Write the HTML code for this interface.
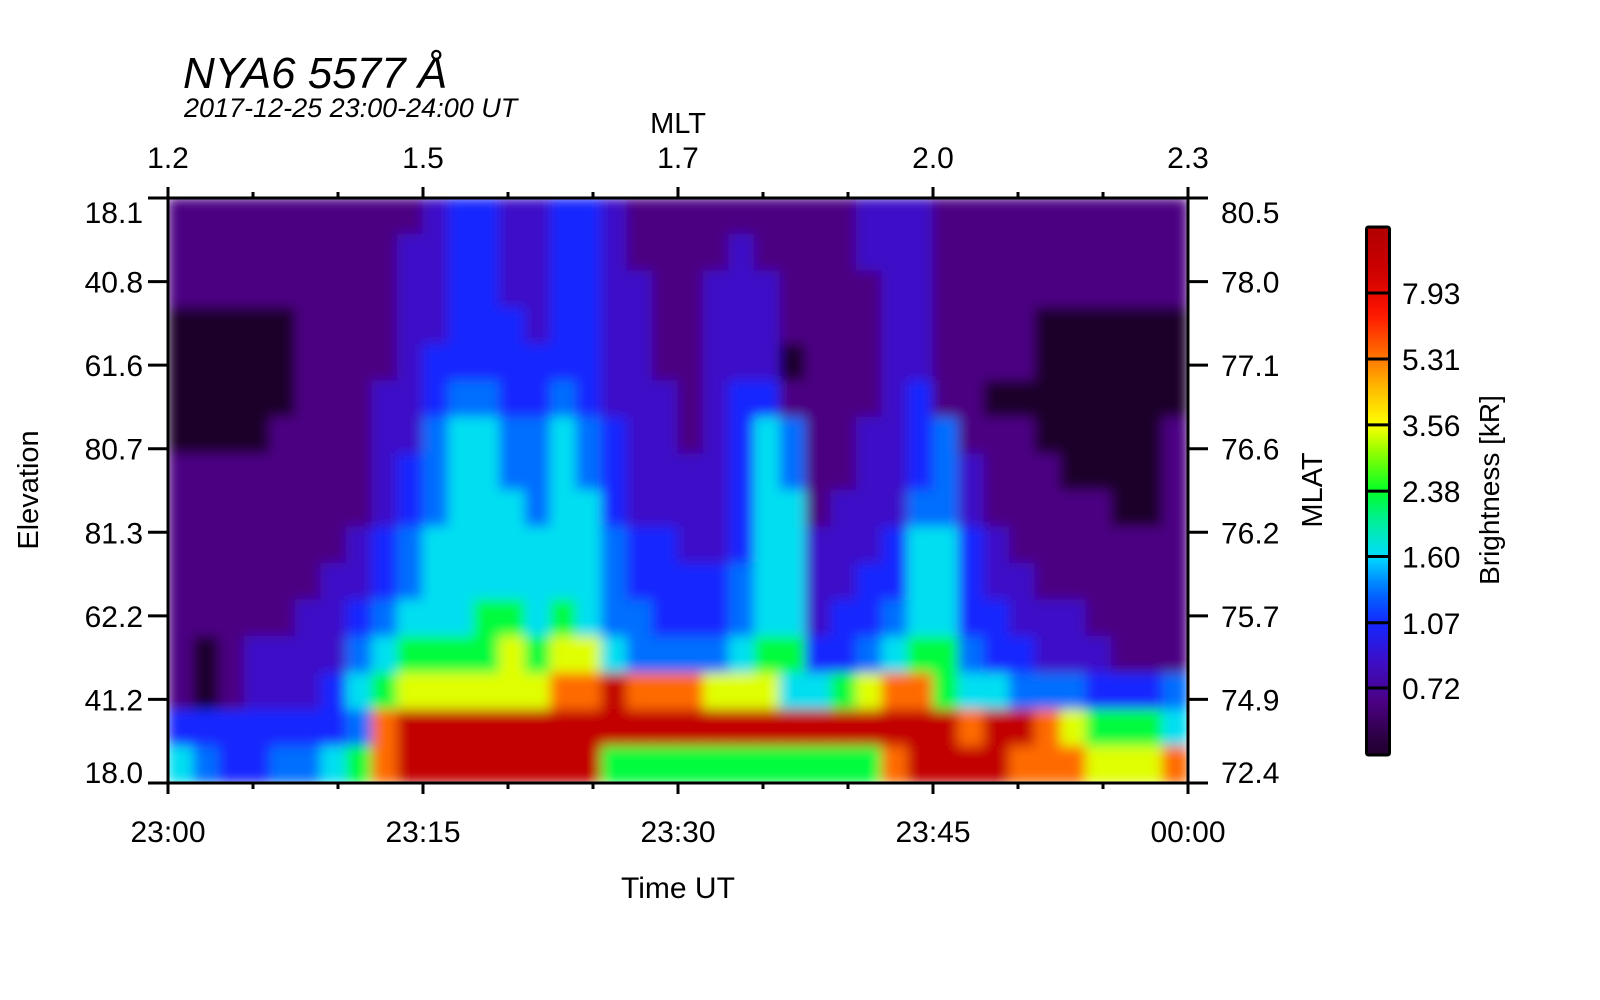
<!DOCTYPE html>
<html><head><meta charset="utf-8"><style>
html,body{margin:0;padding:0;background:#fff;}
svg{display:block;font-family:"Liberation Sans",Arial,sans-serif;}
</style></head><body>
<svg id="chart" width="1600" height="1000" viewBox="0 0 1600 1000">
<defs>
<clipPath id="plotclip"><rect x="168" y="198" width="1020" height="585"/></clipPath>
<filter id="soft" x="0" y="0" width="1" height="1"><feGaussianBlur stdDeviation="6"/></filter>
<linearGradient id="cbgrad" x1="0" y1="1" x2="0" y2="0"></linearGradient>
</defs>
<g id="heat" clip-path="url(#plotclip)"><g id="cells" filter="url(#soft)"></g></g>
<g id="axes"></g>
<text x="183" y="88" font-size="44" font-style="italic">NYA6 5577 Å</text>
<text x="184" y="117" font-size="27" font-style="italic">2017-12-25 23:00-24:00 UT</text>
<text x="678" y="133" font-size="29" text-anchor="middle">MLT</text>
<text x="678" y="898" font-size="30" text-anchor="middle">Time UT</text>
<text transform="translate(38,490) rotate(-90)" font-size="29" text-anchor="middle">Elevation</text>
<text transform="translate(1322,490) rotate(-90)" font-size="29" text-anchor="middle">MLAT</text>
<text transform="translate(1499,490) rotate(-90)" font-size="28" text-anchor="middle">Brightness [kR]</text>
<g id="cbar"></g>
</svg>
<script>
// ---- data ----
const timeTickLabels = ["23:00","23:15","23:30","23:45","00:00"];
const mltTickLabels = ["1.2","1.5","1.7","2.0","2.3"];
const elevTickLabels = ["18.1","40.8","61.6","80.7","81.3","62.2","41.2","18.0"];
const mlatTickLabels = ["80.5","78.0","77.1","76.6","76.2","75.7","74.9","72.4"];
const cbTickValues = [7.93,5.31,3.56,2.38,1.60,1.07,0.72];
const cbTickLabels = ["7.93","5.31","3.56","2.38","1.60","1.07","0.72"];
// brightness level per digit (kR)
const levelValues = [0.45,0.66,0.85,1.07,1.3,1.65,2.3,3.4,5.5,10];
// keogram rows (top = high elevation north, bottom = south), 40 time bins of 1.5 min
const keoRows = [
"1111111111233223321111111112221111111111",
"1111111112233223321111211112221111111111",
"1111111112233223322112221111221111111111",
"0000011112233323322112221111221111000000",
"0000011112333333322112220111221111000000",
"0000011122344334322212331111231100000000",
"0000111122455445432212354112234111000001",
"1111111123455445432222354112234211100001",
"1111111123455545532222355122244211111001",
"1111111234555555543322355222355321111111",
"1111112234555555543333455223355322111111",
"1111122345556656544333455233455332221111",
"1012222456666767754444566334566433222111",
"1012223567777778898887775567886554443334",
"3333333489999999999999999999999899876665",
"5433445689999999966666666666899998887778"
];
// ---- geometry ----
const X0=168,X1=1188,Y0=198,Y1=783;
const nCols=keoRows[0].length, nRows=keoRows.length;
const xScale=t=>X0+(t/60)*(X1-X0); // minutes
const yRow=r=>Y0+r*(Y1-Y0)/nRows;
const cbTop=227,cbBot=755,cbY793=293,cbY072=688;
const cbScale=v=>cbY793+(Math.log(7.93)-Math.log(v))/(Math.log(7.93)-Math.log(0.72))*(cbY072-cbY793);
const stops=[[0.3,[5,0,10]],[0.5,[35,0,50]],[0.66,[75,0,130]],[0.85,[60,15,200]],[1.07,[20,40,255]],[1.3,[0,110,255]],[1.6,[0,220,255]],[2.0,[0,240,150]],[2.38,[0,255,40]],[3.0,[140,255,0]],[3.56,[255,255,0]],[4.4,[255,190,0]],[5.31,[255,120,0]],[7.0,[255,20,0]],[9.0,[205,0,0]],[14,[160,0,0]]];
function cmap(v){
  if(v<=stops[0][0])return `rgb(${stops[0][1]})`;
  for(let i=1;i<stops.length;i++){
    if(v<=stops[i][0]){
      const a=stops[i-1],b=stops[i];
      const f=(Math.log(v)-Math.log(a[0]))/(Math.log(b[0])-Math.log(a[0]));
      const c=a[1].map((x,k)=>Math.round(x+(b[1][k]-x)*f));
      return `rgb(${c})`;
    }
  }
  return `rgb(${stops[stops.length-1][1]})`;
}
const NS="http://www.w3.org/2000/svg";
function mk(tag,attrs,parent){const e=document.createElementNS(NS,tag);for(const k in attrs)e.setAttribute(k,attrs[k]);parent.appendChild(e);return e;}
// ---- heatmap ----
const cells=document.getElementById('cells');
const dt=60/nCols;
for(let r=0;r<nRows;r++){
  for(let c=0;c<nCols;c++){
    const v=levelValues[+keoRows[r][c]];
    const x=xScale(c*dt), w=xScale((c+1)*dt)-x;
    const e=mk('rect',{x:x-0.5,y:yRow(r)-0.5,width:w+1,height:yRow(r+1)-yRow(r)+1,fill:cmap(v)},cells);
    
    
  }
}
// ---- axes ----
const ax=document.getElementById('axes');
const frame=mk('rect',{x:X0,y:Y0,width:X1-X0,height:Y1-Y0,fill:'none',stroke:'#000','stroke-width':3},ax);


for(let m=0;m<=60;m+=5){
  const x=xScale(m), major=m%15===0, L=major?11:6;
  mk('line',{x1:x,y1:Y0,x2:x,y2:Y0-L,stroke:'#000','stroke-width':3},ax);
  mk('line',{x1:x,y1:Y1,x2:x,y2:Y1+L,stroke:'#000','stroke-width':3},ax);
}
timeTickLabels.forEach((s,i)=>{
  const t=mk('text',{x:xScale(i*15),y:842,'font-size':30,'text-anchor':'middle'},ax);t.textContent=s;
  
  
});
mltTickLabels.forEach((s,i)=>{
  const t=mk('text',{x:xScale(i*15),y:168,'font-size':30,'text-anchor':'middle'},ax);t.textContent=s;
  
  
});
const nY=elevTickLabels.length;
elevTickLabels.forEach((s,i)=>{
  const y=Y0+i*(Y1-Y0)/(nY-1);
  mk('line',{x1:X0,y1:y,x2:X0-20,y2:y,stroke:'#000','stroke-width':3},ax);
  mk('line',{x1:X1,y1:y,x2:X1+20,y2:y,stroke:'#000','stroke-width':3},ax);
  const ly=i===0?y+25:(i===nY-1?y:y+11);
  const t=mk('text',{x:143,y:ly,'font-size':30,'text-anchor':'end'},ax);t.textContent=s;
  
  
  const t2=mk('text',{x:1221,y:ly,'font-size':30},ax);t2.textContent=mlatTickLabels[i];
  
  
});
// ---- colorbar ----
const cb=document.getElementById('cbar');
const grad=document.getElementById('cbgrad');
for(let k=0;k<=40;k++){
  const y=cbBot-(cbBot-cbTop)*k/40;
  const v=Math.exp(Math.log(7.93)-(y-cbY793)/(cbY072-cbY793)*(Math.log(7.93)-Math.log(0.72)));
  mk('stop',{offset:(k/40),'stop-color':cmap(v)},grad);
}
const cbr=mk('rect',{x:1366.5,y:cbTop,width:23,height:cbBot-cbTop,fill:'url(#cbgrad)',stroke:'#000','stroke-width':3,rx:2},cb);


cbTickValues.forEach((v,i)=>{
  const y=cbScale(v);
  mk('line',{x1:1366,y1:y,x2:1390,y2:y,stroke:'#000','stroke-width':3},cb);
  const t=mk('text',{x:1402,y:y+11,'font-size':30},cb);t.textContent=cbTickLabels[i];
  
  
});
</script>
</body></html>
